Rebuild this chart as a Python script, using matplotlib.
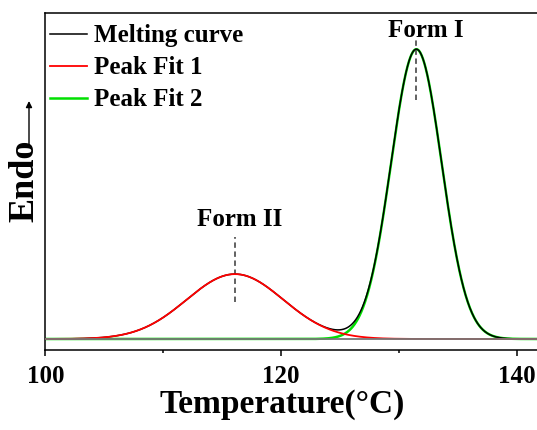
import numpy as np
import matplotlib
matplotlib.use("Agg")
import matplotlib.pyplot as plt

# peak fit parameters (Gaussian fits, arbitrary heat-flow units)
peak_names = ["Form II", "Form I"]
peak_centers = [116.1, 131.5]   # degC
peak_heights = [0.224, 1.0]
peak_sigmas = [4.1, 2.15]
legend_labels = ["Melting curve", "Peak Fit 1", "Peak Fit 2"]
x_ticks = [100, 120, 140]

plt.rcParams["font.family"] = ["Liberation Serif", "DejaVu Serif"]
plt.rcParams["font.weight"] = "bold"

fig = plt.figure(figsize=(5.37, 4.30), dpi=100)
W, H = 537.0, 430.0
# axes run past the right edge of the picture, like the cropped original
ax = fig.add_axes([45.3 / W, 80 / H, (43 * 11.78) / W, 337 / H])

temp = np.linspace(100, 143, 1200)
fit1 = peak_heights[0] * np.exp(-0.5 * ((temp - peak_centers[0]) / peak_sigmas[0]) ** 2)
fit2 = peak_heights[1] * np.exp(-0.5 * ((temp - peak_centers[1]) / peak_sigmas[1]) ** 2)
melt = fit1 + fit2

ax.axhline(0, color="#777777", lw=1.3, zorder=6)
ax.plot(temp, fit2, color="#00e000", lw=1.8, label=legend_labels[2], zorder=2)
ax.plot(temp, melt, color="black", lw=1.1, label=legend_labels[0], zorder=3)
ax.plot(temp, fit1, color="#ff0000", lw=1.3, label=legend_labels[1], zorder=4)

# dashed markers and peak labels
ax.plot([peak_centers[0]] * 2, [0.128, 0.352], ls=(0, (3, 2)), color="#555555", lw=1.3)
ax.plot([peak_centers[1]] * 2, [0.825, 1.036], ls=(0, (3, 2)), color="#555555", lw=1.3)
ax.text(116.5, 0.39, peak_names[0], ha="center", va="baseline", fontsize=18, fontweight="bold")
ax.text(132.3, 1.043, peak_names[1], ha="center", va="baseline", fontsize=18, fontweight="bold")

ax.set_xlim(100, 143)
ax.set_ylim(-0.038, 1.125)
ax.set_xticks(x_ticks)
ax.set_xticks([110, 130], minor=True)
ax.set_yticks([])
ax.tick_params(axis="x", which="major", direction="out", length=4.5, width=1.1, labelsize=18, pad=6)
ax.tick_params(axis="x", which="minor", direction="out", length=2.5, width=1.1)
for lab in ax.get_xticklabels():
    lab.set_fontweight("bold")
for sp in ax.spines.values():
    sp.set_linewidth(1.1)

fig.text(282.5 / W, 1 - 405 / H, "Temperature(°C)", ha="center", va="center",
         fontsize=24, fontweight="bold")

fig.text(25 / W, 1 - 181 / H, "Endo", rotation=90, ha="center", va="center",
         fontsize=26, fontweight="bold")
ax.annotate("", xy=(29 / W, 1 - 101 / H), xytext=(29 / W, 1 - 145 / H),
            xycoords="figure fraction", textcoords="figure fraction",
            arrowprops=dict(arrowstyle="-|>", color="black", lw=1.0,
                            mutation_scale=9, shrinkA=0, shrinkB=0))

handles, labels = ax.get_legend_handles_labels()
order = [1, 2, 0]
ax.legend([handles[i] for i in order], [labels[i] for i in order],
          loc="upper left", bbox_to_anchor=(-0.012, 1.0), frameon=False,
          prop={"size": 18, "weight": "bold"}, handlelength=1.45,
          handletextpad=0.3, labelspacing=0.36, borderaxespad=0.0, borderpad=0.45)

fig.savefig("out.png", dpi=100)
